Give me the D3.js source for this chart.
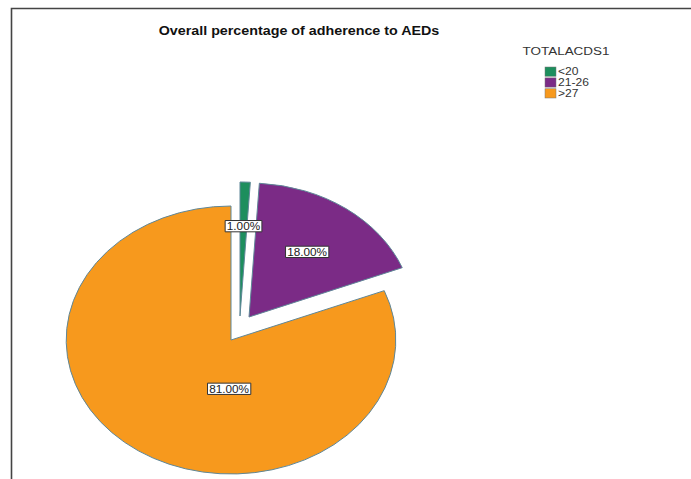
<!DOCTYPE html>
<html>
<head>
<meta charset="utf-8">
<script src="https://cdn.jsdelivr.net/npm/d3@7"></script>
<style>
  html, body { margin: 0; padding: 0; background: #fff; }
  svg { display: block; }
  text { font-family: "Liberation Sans", Arial, sans-serif; }
</style>
</head>
<body>
<svg id="chart" width="691" height="479"></svg>
<script>
// Data
const categories = ["<20", "21-26", ">27"];
const percentages = [1.0, 18.0, 81.0];
const colors = ["#1d8e5d", "#7b2b86", "#f7991d"];
const legendTitle = "TOTALACDS1";
const chartTitle = "Overall percentage of adherence to AEDs";

// Layout
const W = 691, H = 479;
const cx = 231, cy = 340;       // pie centre
const ry = 134, stretch = 1.23; // vertical radius and horizontal stretch
const textStretch = 1.15;       // text is drawn wide, like the pie
// exploded slices, offset in pixels
const explode = { "<20": [9, -24], "21-26": [18, -23], ">27": [0, 0] };
// label placement: angle (radians, null = slice middle) and radius fraction
const labelPlace = {
  "<20": { angle: null, r: 0.67 },
  "21-26": { angle: null, r: 0.6 },
  ">27": { angle: Math.PI * 1.01, r: 0.365 }
};

const svg = d3.select("#chart");

// draws a horizontally widened text at (x, y)
function wideText(parent, x, y, str, size, opts = {}) {
  const g = parent.append("g")
    .attr("transform", `translate(${x},${y}) scale(${opts.sx || textStretch},1)`);
  const t = g.append("text")
    .attr("text-anchor", opts.anchor || "start")
    .attr("dy", opts.dy || null)
    .attr("font-size", size)
    .attr("font-weight", opts.weight || "normal")
    .attr("fill", opts.fill || "#333")
    .text(str);
  return { g, t };
}

// frame
svg.append("path")
  .attr("d", `M11.5,${H} L11.5,8.5 L${W},8.5`)
  .attr("fill", "none")
  .attr("stroke", "#444")
  .attr("stroke-width", 1.6);

// title
wideText(svg, 299, 35, chartTitle, 13, { anchor: "middle", weight: "bold", fill: "#111", sx: 1.1 });

const data = categories.map((c, i) => ({ cat: c, value: percentages[i], color: colors[i] }));

const pie = d3.pie().value(d => d.value).sort(null);
const arcs = pie(data);
const arc = d3.arc().innerRadius(0).outerRadius(ry);

const pieG = svg.append("g");

arcs.forEach(a => {
  const off = explode[a.data.cat];
  pieG.append("path")
    .attr("d", arc(a))
    .attr("transform", `translate(${cx + off[0]},${cy + off[1]}) scale(${stretch},1)`)
    .attr("fill", a.data.color)
    .attr("stroke", "#5f8798")
    .attr("stroke-width", 1)
    .attr("vector-effect", "non-scaling-stroke");
});

// value labels
arcs.forEach(a => {
  const off = explode[a.data.cat];
  const lp = labelPlace[a.data.cat];
  const ang = lp.angle == null ? (a.startAngle + a.endAngle) / 2 : lp.angle;
  const r = lp.r * ry;
  const lx = cx + off[0] + Math.sin(ang) * r * stretch;
  const ly = cy + off[1] - Math.cos(ang) * r;
  const { g, t } = wideText(svg, lx, ly, d3.format(".2f")(a.data.value) + "%", 10.5,
    { anchor: "middle", dy: "0.35em", fill: "#222", sx: 1.12 });
  const bb = t.node().getBBox();
  g.insert("rect", "text")
    .attr("x", bb.x - 1.5).attr("y", bb.y)
    .attr("width", bb.width + 3).attr("height", bb.height)
    .attr("fill", "#fff")
    .attr("stroke", "#333")
    .attr("stroke-width", 1)
    .attr("vector-effect", "non-scaling-stroke");
});

// legend
const lg = svg.append("g");
wideText(lg, 566, 55, legendTitle, 11.5, { anchor: "middle", sx: 1.17 });

const ly = d3.scaleBand().domain(categories).range([67, 98]).paddingInner(0.15);
categories.forEach((c, i) => {
  lg.append("rect")
    .attr("x", 545).attr("y", ly(c))
    .attr("width", 11).attr("height", ly.bandwidth())
    .attr("fill", colors[i])
    .attr("stroke", "#777")
    .attr("stroke-width", 0.5);
  wideText(lg, 558, ly(c) + ly.bandwidth() / 2, c, 10.5, { dy: "0.36em", sx: 1.15 });
});
</script>
</body>
</html>
